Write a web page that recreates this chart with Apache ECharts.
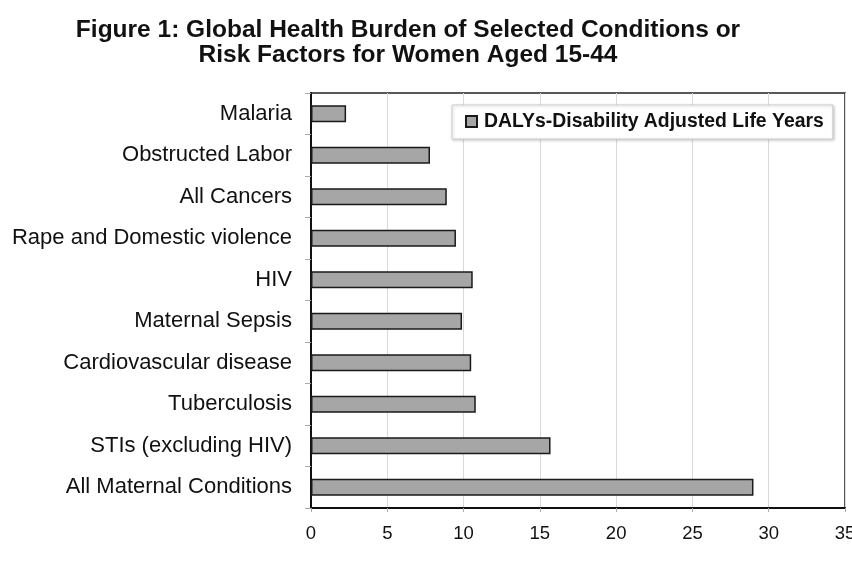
<!DOCTYPE html>
<html>
<head>
<meta charset="utf-8">
<script src="https://cdn.jsdelivr.net/npm/echarts@6/dist/echarts.min.js"></script>
<style>
  html, body { margin: 0; padding: 0; background: #fff; }
  #chart { width: 852px; height: 566px; }
</style>
</head>
<body>
<div id="chart"></div>
<script>
const categories = [
  "Malaria",
  "Obstructed Labor",
  "All Cancers",
  "Rape and Domestic violence",
  "HIV",
  "Maternal Sepsis",
  "Cardiovascular disease",
  "Tuberculosis",
  "STIs (excluding HIV)",
  "All Maternal Conditions"
];
const dalys = [2.3, 7.8, 8.9, 9.5, 10.6, 9.9, 10.5, 10.8, 15.7, 29.0];
const seriesName = "DALYs-Disability Adjusted Life Years";
const titleText = "Figure 1: Global Health Burden of Selected Conditions or\nRisk Factors for Women Aged 15-44";

const FONT = 'Liberation Sans, Arial, sans-serif';
const chart = echarts.init(document.getElementById('chart'), null, { renderer: 'canvas' });
chart.setOption({
  animation: false,
  backgroundColor: '#ffffff',
  title: {
    text: titleText,
    left: 403,
    top: 13,
    textAlign: 'center',
    textStyle: {
      fontFamily: FONT,
      fontWeight: 'bold',
      fontSize: 24.5,
      lineHeight: 25,
      color: '#111'
    }
  },
  legend: {
    data: [seriesName],
    left: 452,
    top: 105,
    orient: 'horizontal',
    itemWidth: 11,
    itemHeight: 11,
    itemGap: 7,
    icon: 'rect',
    padding: [7, 9, 8, 13],
    backgroundColor: '#ffffff',
    borderColor: '#cfcfcf',
    borderWidth: 1,
    shadowColor: 'rgba(0,0,0,0.2)',
    shadowBlur: 3,
    shadowOffsetX: 1,
    shadowOffsetY: 1,
    textStyle: {
      fontFamily: FONT,
      fontWeight: 'bold',
      fontSize: 19.4,
      padding: [0, 0, 0, 2],
      color: '#111'
    }
  },
  grid: {
    left: 311,
    right: 7,
    top: 93,
    bottom: 58,
    containLabel: false,
    outerBoundsMode: 'none',
    show: true,
    borderColor: '#222',
    borderWidth: 1.5,
    backgroundColor: 'transparent'
  },
  xAxis: {
    type: 'value',
    min: 0,
    max: 35,
    interval: 5,
    axisLine: { show: true, lineStyle: { color: '#111', width: 2 } },
    axisTick: { show: true, length: 4, lineStyle: { color: '#aaa' } },
    splitLine: { show: true, lineStyle: { color: '#d9d9d9', width: 1 } },
    axisLabel: {
      fontFamily: FONT,
      fontSize: 18.5,
      color: '#111',
      margin: 16
    }
  },
  yAxis: {
    type: 'category',
    inverse: true,
    data: categories,
    axisLine: { show: true, lineStyle: { color: '#111', width: 2 } },
    axisTick: { show: true, length: 6, lineStyle: { color: '#aaa' } },
    splitLine: { show: false },
    axisLabel: {
      fontFamily: FONT,
      fontSize: 22,
      color: '#111',
      margin: 19
    }
  },
  series: [{
    name: seriesName,
    type: 'bar',
    data: dalys,
    barWidth: 17,
    itemStyle: {
      color: '#a6a6a6',
      borderColor: '#1a1a1a',
      borderWidth: 1.5
    }
  }]
});
</script>
</body>
</html>
